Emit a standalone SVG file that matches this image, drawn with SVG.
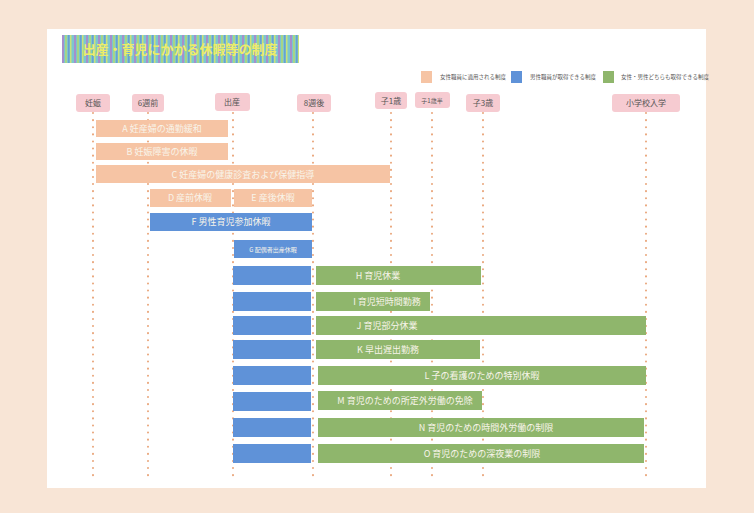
<svg xmlns="http://www.w3.org/2000/svg" width="754" height="513" viewBox="0 0 754 513" xml:space="preserve">
<defs>
<pattern id="stripes" x="0" y="0" width="12" height="30" patternUnits="userSpaceOnUse">
<rect x="0" y="0" width="12" height="30" fill="#7cc6cf"/>
<rect x="2" y="0" width="2" height="30" fill="#a58fcc"/>
<rect x="5" y="0" width="2" height="30" fill="#a6d488"/>
<rect x="8" y="0" width="1.5" height="30" fill="#6a9fd0"/>
<rect x="10" y="0" width="1.5" height="30" fill="#c9e27a"/>
</pattern>
<style>
.hdr rect{fill:#f6cbd1;}
.hdr text{font-family:"Noto Sans CJK JP","Noto Sans CJK SC",sans-serif;font-size:8px;fill:#555;text-anchor:middle;}
.o{fill:#f6c4a4;}
.b{fill:#5f92d8;}
.g{fill:#8fb66c;}
.lbl{font-family:"Noto Sans CJK JP","Noto Sans CJK SC",sans-serif;font-size:9px;fill:#f8f4ea;text-anchor:middle;}
.leg{font-family:"Noto Sans CJK JP","Noto Sans CJK SC",sans-serif;font-size:5.5px;fill:#555;}
.dl{stroke:#e9a57a;stroke-width:2;stroke-dasharray:0.1 7;stroke-linecap:round;fill:none;}
</style>
</defs>
<rect x="0" y="0" width="754" height="513" fill="#f8e5d6"/>
<rect x="47" y="29" width="659" height="459" fill="#ffffff"/>
<g id="title">
<rect x="62" y="35" width="237" height="28" fill="url(#stripes)"/>
<text x="180" y="54" font-family="Noto Sans CJK JP,sans-serif" font-size="13" font-weight="bold" fill="#ecec6a" text-anchor="middle">出産・育児にかかる休暇等の制度</text>
</g>
<g id="legend">
<rect x="421" y="71" width="11" height="12" class="o"/>
<text x="440" y="79" class="leg">女性職員に適用される制度</text>
<rect x="511" y="71" width="11" height="12" class="b"/>
<text x="530" y="79" class="leg">男性職員が取得できる制度</text>
<rect x="603" y="71" width="11" height="12" class="g"/>
<text x="621" y="79" class="leg">女性・男性どちらも取得できる制度</text>
</g>
<g id="connectors">
<line class="dl" x1="93" y1="113" x2="93" y2="482"/>
<line class="dl" x1="148" y1="113" x2="148" y2="482"/>
<line class="dl" x1="233" y1="113" x2="233" y2="482"/>
<line class="dl" x1="313" y1="113" x2="313" y2="482"/>
<line class="dl" x1="391" y1="113" x2="391" y2="482"/>
<line class="dl" x1="432" y1="113" x2="432" y2="482"/>
<line class="dl" x1="483" y1="113" x2="483" y2="482"/>
<line class="dl" x1="646" y1="113" x2="646" y2="482"/>
</g>
<g id="h1" class="hdr"><rect x="76" y="94" width="34" height="18" rx="3"/><text x="93" y="106">妊娠</text></g>
<g id="h2" class="hdr"><rect x="132" y="94" width="32" height="18" rx="3"/><text x="148" y="106">6週前</text></g>
<g id="h3" class="hdr"><rect x="215" y="93" width="35" height="18" rx="3"/><text x="232" y="105">出産</text></g>
<g id="h4" class="hdr"><rect x="297" y="94" width="34" height="18" rx="3"/><text x="314" y="106">8週後</text></g>
<g id="h5" class="hdr"><rect x="375" y="92" width="32" height="17" rx="3"/><text x="391" y="104">子1歳</text></g>
<g id="h6" class="hdr"><rect x="415" y="92" width="35" height="16" rx="3"/><text x="432" y="103" style="font-size:6px">子1歳半</text></g>
<g id="h7" class="hdr"><rect x="466" y="94" width="34" height="18" rx="3"/><text x="483" y="106">子3歳</text></g>
<g id="h8" class="hdr"><rect x="612" y="94" width="68" height="18" rx="3"/><text x="646" y="106">小学校入学</text></g>
<g id="A"><rect x="96" y="120" width="132" height="17" class="o"/><text x="162" y="132" class="lbl">A  妊産婦の通勤緩和</text></g>
<g id="B"><rect x="96" y="143" width="132" height="17" class="o"/><text x="162" y="155" class="lbl">B  妊娠障害の休暇</text></g>
<g id="C"><rect x="96" y="165" width="294" height="18" class="o"/><text x="243" y="178" class="lbl">C  妊産婦の健康診査および保健指導</text></g>
<g id="D"><rect x="150" y="189" width="81" height="18" class="o"/><text x="190" y="201" class="lbl">D  産前休暇</text></g>
<g id="E"><rect x="234" y="189" width="78" height="18" class="o"/><text x="273" y="201" class="lbl">E  産後休暇</text></g>
<g id="F"><rect x="150" y="213" width="162" height="18" class="b"/><text x="231" y="225" class="lbl">F  男性育児参加休暇</text></g>
<g id="G"><rect x="234" y="240" width="78" height="18" class="b"/><text x="273" y="252" class="lbl" style="font-size:6px">G  配偶者出産休暇</text></g>
<g id="H"><rect x="233" y="266" width="78" height="19" class="b"/><rect x="316" y="266" width="165" height="19" class="g"/><text x="378" y="279" class="lbl">H  育児休業</text></g>
<g id="I"><rect x="233" y="292" width="78" height="19" class="b"/><rect x="316" y="292" width="114" height="19" class="g"/><text x="387" y="305" class="lbl">I  育児短時間勤務</text></g>
<g id="J"><rect x="233" y="316" width="78" height="19" class="b"/><rect x="316" y="316" width="330" height="19" class="g"/><text x="387" y="329" class="lbl">J  育児部分休業</text></g>
<g id="K"><rect x="233" y="340" width="78" height="19" class="b"/><rect x="316" y="340" width="164" height="19" class="g"/><text x="388" y="353" class="lbl">K  早出遅出勤務</text></g>
<g id="L"><rect x="233" y="366" width="78" height="19" class="b"/><rect x="318" y="366" width="328" height="19" class="g"/><text x="482" y="379" class="lbl">L  子の看護のための特別休暇</text></g>
<g id="M"><rect x="233" y="392" width="78" height="19" class="b"/><rect x="318" y="391" width="164" height="19" class="g"/><text x="405" y="404" class="lbl">M  育児のための所定外労働の免除</text></g>
<g id="N"><rect x="233" y="418" width="78" height="19" class="b"/><rect x="318" y="418" width="326" height="19" class="g"/><text x="486" y="431" class="lbl">N  育児のための時間外労働の制限</text></g>
<g id="O"><rect x="233" y="444" width="78" height="19" class="b"/><rect x="318" y="444" width="326" height="19" class="g"/><text x="482" y="457" class="lbl">O  育児のための深夜業の制限</text></g>
</svg>
